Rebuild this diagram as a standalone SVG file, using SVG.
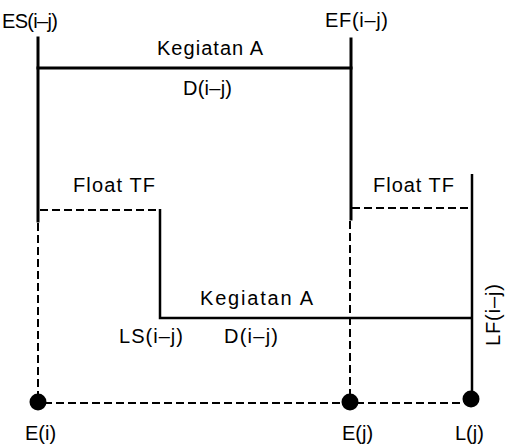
<svg xmlns="http://www.w3.org/2000/svg" width="505" height="446" viewBox="0 0 505 446">
  <style>
    .solid { stroke: #000; stroke-width: 3; fill: none; stroke-linecap: square; }
    .thin { stroke: #000; stroke-width: 2.5; fill: none; }
    .dash { stroke: #000; stroke-width: 2; fill: none; stroke-dasharray: 8 4; }
    .dot { fill: #000; }
    text { font-family: "Liberation Sans", Arial, sans-serif; font-size: 20px; fill: #000; }
  </style>

  <g id="connectors">
    <!-- early schedule: activity bar between early start and early finish -->
    <line class="solid" x1="38" y1="38" x2="38" y2="221"/>
    <line class="solid" x1="38" y1="68" x2="351" y2="68"/>
    <line class="solid" x1="351" y1="39" x2="351" y2="219"/>

    <!-- late schedule: float then activity bar up to late finish -->
    <polyline class="dash" points="40,210 160,210"/>
    <polyline class="thin" points="160,209 160,318 471,318"/>
    <line class="dash" x1="352" y1="208" x2="471" y2="208"/>
    <line class="thin" x1="472" y1="174" x2="472" y2="399"/>

    <!-- event time lines -->
    <line class="dash" x1="38" y1="223" x2="38" y2="396"/>
    <line class="dash" x1="350" y1="221" x2="350" y2="396"/>
    <line class="dash" x1="44" y1="403" x2="466" y2="403"/>
  </g>

  <g id="event-i">
    <circle class="dot" cx="38" cy="402" r="8.5"/>
    <text x="25" y="440">E(i)</text>
  </g>
  <g id="event-j">
    <circle class="dot" cx="350" cy="402" r="8.5"/>
    <text x="342" y="440">E(j)</text>
  </g>
  <g id="late-j">
    <circle class="dot" cx="471" cy="399" r="8.5"/>
    <text x="455" y="440">L(j)</text>
  </g>

  <g id="labels">
    <text x="2" y="28" textLength="56" lengthAdjust="spacing">ES(i–j)</text>
    <text x="325" y="27" textLength="63" lengthAdjust="spacing">EF(i–j)</text>
    <text x="157" y="55" textLength="106" lengthAdjust="spacing">Kegiatan A</text>
    <text x="183" y="95" textLength="49" lengthAdjust="spacing">D(i–j)</text>
    <text x="73" y="192" textLength="82" lengthAdjust="spacing">Float TF</text>
    <text x="373" y="192" textLength="81" lengthAdjust="spacing">Float TF</text>
    <text x="200" y="305" textLength="113" lengthAdjust="spacing">Kegiatan A</text>
    <text x="119" y="343" textLength="64" lengthAdjust="spacing">LS(i–j)</text>
    <text x="224" y="343" textLength="54" lengthAdjust="spacing">D(i–j)</text>
    <text transform="translate(500,346) rotate(-90)" textLength="62" lengthAdjust="spacing">LF(i–j)</text>
  </g>
</svg>
